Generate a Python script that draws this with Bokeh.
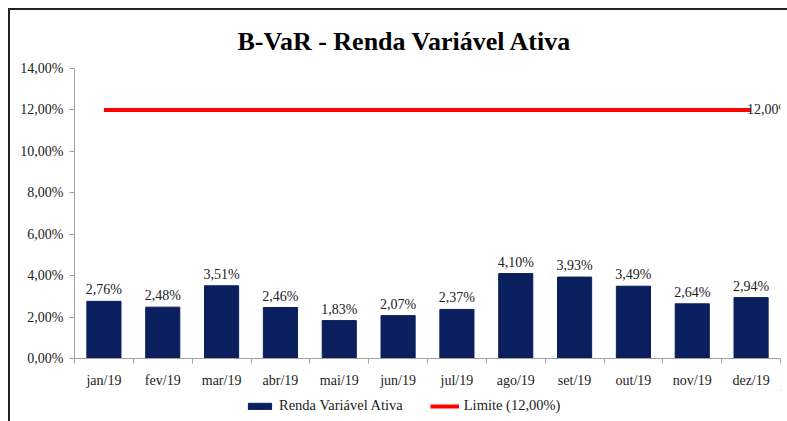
from bokeh.plotting import figure
from bokeh.layouts import column
from bokeh.models import FixedTicker, Label, Legend, LegendItem, ColumnDataSource, Range1d
from bokeh.core.properties import value
from bokeh.embed import file_html
from bokeh.resources import INLINE

months = ["jan/19", "fev/19", "mar/19", "abr/19", "mai/19", "jun/19",
          "jul/19", "ago/19", "set/19", "out/19", "nov/19", "dez/19"]
bvar = [2.76, 2.48, 3.51, 2.46, 1.83, 2.07, 2.37, 4.10, 3.93, 3.49, 2.64, 2.94]
limite = [12.0] * 12
y_ticks = [0, 2, 4, 6, 8, 10, 12, 14]

def pct(v):
    return f"{v:.2f}".replace(".", ",") + "%"

xs = [i + 0.5 for i in range(len(months))]
src = ColumnDataSource(dict(x=xs, y=bvar, lbl=[pct(v) for v in bvar], lim=limite))

SERIF = "Liberation Serif"
BAR = "#0b1f5e"
RED = "#ff0000"

p = figure(width=777, height=380, output_backend="svg", toolbar_location=None,
           x_range=Range1d(0, 12), y_range=Range1d(0, 14),
           min_border_left=64, min_border_right=7, min_border_top=58, min_border_bottom=30)
p.outline_line_color = None
p.xgrid.visible = False
p.ygrid.visible = False

p.title.text = "B-VaR - Renda Variável Ativa"
p.title.text_font = SERIF
p.title.text_font_size = "26px"
p.title.text_font_style = "bold"
p.title.text_color = "#000"
p.title.align = "left"
p.title.offset = 163
p.title.standoff = 26

bars = p.vbar(x="x", top="y", width=0.58, source=src, fill_color=BAR, line_color=BAR)
lim = p.line(x="x", y="lim", source=src, line_color=RED, line_width=4)

p.text(x="x", y="y", text="lbl", source=src, text_font=value(SERIF), text_font_size="14px",
       text_align="center", text_baseline="bottom", y_offset=-4, text_color="#222")

p.add_layout(Label(x=xs[-1], y=limite[-1], text=pct(limite[-1]), text_font=SERIF,
                   text_font_size="14px", text_baseline="middle", text_align="left",
                   x_offset=-4, text_color="#222"))

# axes
p.yaxis.ticker = FixedTicker(ticks=y_ticks)
p.yaxis.major_label_overrides = {t: pct(t) for t in y_ticks}
p.yaxis.major_label_text_font = SERIF
p.yaxis.major_label_text_font_size = "14px"
p.yaxis.major_label_text_color = "#222"
p.yaxis.axis_line_color = "#a0a0a0"
p.yaxis.major_tick_line_color = "#a0a0a0"
p.yaxis.major_tick_out = 5
p.yaxis.major_tick_in = 0
p.yaxis.minor_tick_line_color = None
p.yaxis.major_label_standoff = 6

p.xaxis.ticker = FixedTicker(ticks=xs, minor_ticks=list(range(13)))
p.xaxis.major_label_overrides = {x: m for x, m in zip(xs, months)}
p.xaxis.major_label_text_font = SERIF
p.xaxis.major_label_text_font_size = "14px"
p.xaxis.major_label_text_color = "#222"
p.xaxis.axis_line_color = "#a0a0a0"
p.xaxis.major_tick_line_color = None
p.xaxis.minor_tick_line_color = "#a0a0a0"
p.xaxis.minor_tick_out = 5
p.xaxis.minor_tick_in = 0
p.xaxis.major_label_standoff = 8

# legend strip (renderers hold one point outside the visible range)
p2 = figure(width=777, height=31, output_backend="svg", toolbar_location=None,
            x_axis_type=None, y_axis_type=None, x_range=Range1d(0, 1), y_range=Range1d(0, 1),
            min_border=0)
p2.outline_line_color = None
p2.xgrid.visible = False
p2.ygrid.visible = False
lb = p2.vbar(x=[5], top=[5], bottom=[4], width=0.5, fill_color=BAR, line_color=BAR)
ll = p2.line(x=[5, 6], y=[5, 5], line_color=RED, line_width=4)
legend = Legend(items=[LegendItem(label="Renda Variável Ativa", renderers=[lb]),
                       LegendItem(label="Limite (12,00%)", renderers=[ll])],
                orientation="horizontal", location=(171, 7))
legend.label_text_font = SERIF
legend.label_text_font_size = "14.5px"
legend.label_text_color = "#222"
legend.border_line_color = None
legend.background_fill_alpha = 0
legend.glyph_width = 29
legend.glyph_height = 8
legend.spacing = 27
legend.label_standoff = 5
legend.padding = 2
legend.margin = 0
p2.add_layout(legend, "center")

layout = column(p, p2, spacing=0)
layout.styles = {"margin-left": "8px", "margin-top": "8px",
                 "border-left": "2px solid #222", "border-top": "2px solid #222"}

open("out.html", "w").write(file_html(layout, INLINE))
